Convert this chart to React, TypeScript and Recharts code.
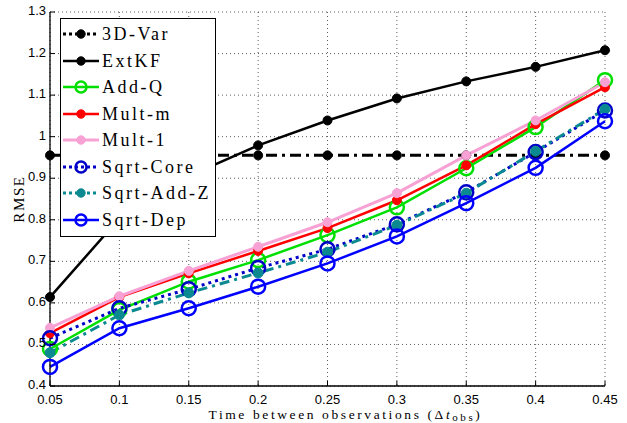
import { CartesianGrid, ComposedChart, Label, Legend, Line, XAxis, YAxis } from "recharts";

const dt = [0.05, 0.1, 0.15, 0.2, 0.25, 0.3, 0.35, 0.4, 0.45];
const xTicks = [0.05, 0.1, 0.15, 0.2, 0.25, 0.3, 0.35, 0.4, 0.45];
const yTicks = [0.4, 0.5, 0.6, 0.7, 0.8, 0.9, 1, 1.1, 1.2, 1.3];

const threeDVar = [0.955, 0.955, 0.955, 0.955, 0.955, 0.955, 0.955, 0.955, 0.955];
const extKF = [0.614, 0.803, 0.905, 0.979, 1.039, 1.092, 1.133, 1.168, 1.208];
const addQ = [0.489, 0.583, 0.651, 0.703, 0.763, 0.83, 0.924, 1.023, 1.136];
const multM = [0.527, 0.614, 0.671, 0.725, 0.78, 0.847, 0.931, 1.03, 1.119];
const mult1 = [0.54, 0.616, 0.677, 0.735, 0.794, 0.864, 0.955, 1.039, 1.131];
const sqrtCore = [0.515, 0.587, 0.633, 0.684, 0.729, 0.789, 0.866, 0.963, 1.063];
const sqrtAddZ = [0.48, 0.571, 0.624, 0.672, 0.722, 0.787, 0.864, 0.965, 1.066];
const sqrtDep = [0.446, 0.539, 0.587, 0.639, 0.695, 0.76, 0.84, 0.925, 1.037];

type Series = {
  key: string;
  name: string;
  values: number[];
  color: string;
  width: number;
  dash?: string;
  r: number;
  hollow?: boolean;
};

const series: Series[] = [
  { key: "v3d", name: "3D-Var", values: threeDVar, color: "#000000", width: 3, dash: "11 5 3 5", r: 4.5 },
  { key: "ekf", name: "ExtKF", values: extKF, color: "#000000", width: 2.5, r: 4.5 },
  { key: "addq", name: "Add-Q", values: addQ, color: "#00e000", width: 2.5, r: 7, hollow: true },
  { key: "multm", name: "Mult-m", values: multM, color: "#ff0000", width: 2.5, r: 4.5 },
  { key: "mult1", name: "Mult-1", values: mult1, color: "#f7a1d4", width: 3, r: 4.5 },
  { key: "core", name: "Sqrt-Core", values: sqrtCore, color: "#0000c8", width: 3, dash: "3 4", r: 7, hollow: true },
  { key: "addz", name: "Sqrt-Add-Z", values: sqrtAddZ, color: "#0a8a90", width: 3, dash: "10 5 3 5", r: 5 },
  { key: "dep", name: "Sqrt-Dep", values: sqrtDep, color: "#0000ff", width: 2.5, r: 7, hollow: true },
];

const data = dt.map((t, i) => {
  const row: Record<string, number> = { t };
  series.forEach((s) => (row[s.key] = s.values[i]));
  return row;
});

const fmt = (v: number) => String(Number(v.toFixed(2)));
const serif = "'Liberation Serif', 'DejaVu Serif', serif";
const sans = "'Liberation Sans', Arial, sans-serif";

function BottomTick(p: any) {
  return (
    <g>
      <line x1={p.x} x2={p.x} y1={p.y} y2={p.y - 5} stroke="#000" strokeWidth={1} />
      <text x={p.x} y={p.y + 18} textAnchor="middle" fontFamily={sans} fontSize={13} fill="#000">
        {fmt(p.payload.value)}
      </text>
    </g>
  );
}

function TopTick(p: any) {
  return <line x1={p.x} x2={p.x} y1={p.y} y2={p.y + 5} stroke="#000" strokeWidth={1} />;
}

function LeftTick(p: any) {
  return (
    <g>
      <line x1={p.x} x2={p.x + 5} y1={p.y} y2={p.y} stroke="#000" strokeWidth={1} />
      <text x={p.x - 4} y={p.y + 3} textAnchor="end" fontFamily={sans} fontSize={13} fill="#000">
        {fmt(p.payload.value)}
      </text>
    </g>
  );
}

function RightTick(p: any) {
  return <line x1={p.x} x2={p.x - 5} y1={p.y} y2={p.y} stroke="#000" strokeWidth={1} />;
}

function XTitle({ viewBox }: any) {
  const cx = viewBox.x + viewBox.width / 2 + 18;
  return (
    <text x={cx} y={viewBox.y + viewBox.height - 4} textAnchor="middle" fontFamily={serif} fontSize={13.5} letterSpacing={2.6} fill="#000">
      Time between observations (Δ<tspan fontStyle="italic">t</tspan>
      <tspan dy={1.5} fontSize={11}>obs</tspan>
      <tspan dy={-1.5}>)</tspan>
    </text>
  );
}

function YTitle({ viewBox }: any) {
  const cy = viewBox.y + viewBox.height / 2;
  const x = 19;
  return (
    <text x={x} y={cy} transform={`rotate(-90 ${x} ${cy})`} textAnchor="middle" dominantBaseline="central" fontFamily={serif} fontSize={15} letterSpacing={1.6} fill="#000">
      RMSE
    </text>
  );
}

function LegendBox() {
  return (
    <div style={{ background: "#fff", border: "1px solid #000", width: 156, padding: "2px 0 3px 2px", boxSizing: "border-box" }}>
      {series.map((s) => (
        <div key={s.key} style={{ display: "flex", alignItems: "center", height: 26.5 }}>
          <svg width={36} height={20} style={{ flex: "none" }}>
            <line x1={0} x2={36} y1={10} y2={10} stroke={s.color} strokeWidth={s.width} strokeDasharray={s.dash ? "3 3" : undefined} />
            <circle cx={18} cy={10} r={s.hollow ? 5.5 : 4.2} fill={s.hollow ? "none" : s.color} stroke={s.color} strokeWidth={s.hollow ? 2.5 : 1} />
          </svg>
          <span style={{ marginLeft: 3, fontFamily: serif, fontSize: 18, letterSpacing: 2.5, lineHeight: "20px", color: "#000" }}>{s.name}</span>
        </div>
      ))}
    </div>
  );
}

export default function App() {
  return (
    <div style={{ width: 627, height: 423, background: "#fff" }}>
      <style>{"body{margin:0}"}</style>
      <ComposedChart width={627} height={423} data={data} margin={{ top: 12, right: 22, left: 0, bottom: 0 }}>
        <CartesianGrid stroke="#333" strokeWidth={0.8} strokeDasharray="1 3" />
        <XAxis
          dataKey="t"
          type="number"
          domain={[0.05, 0.45]}
          ticks={xTicks}
          height={37}
          tickSize={0}
          tickMargin={0}
          tick={BottomTick}
          tickLine={false}
          axisLine={{ stroke: "#000", strokeWidth: 1.3 }}
          interval={0}
        >
          <Label content={XTitle} />
        </XAxis>
        <XAxis
          xAxisId="top"
          orientation="top"
          dataKey="t"
          type="number"
          domain={[0.05, 0.45]}
          ticks={xTicks}
          height={0}
          tickSize={0}
          tickMargin={0}
          tick={TopTick}
          tickLine={false}
          axisLine={{ stroke: "#000", strokeWidth: 1.3 }}
          interval={0}
        />
        <YAxis
          type="number"
          domain={[0.4, 1.3]}
          ticks={yTicks}
          width={50}
          tickSize={0}
          tickMargin={0}
          tick={LeftTick}
          tickLine={false}
          axisLine={{ stroke: "#000", strokeWidth: 1.3 }}
          interval={0}
        >
          <Label content={YTitle} />
        </YAxis>
        <YAxis
          yAxisId="right"
          orientation="right"
          type="number"
          domain={[0.4, 1.3]}
          ticks={yTicks}
          width={0}
          tickSize={0}
          tickMargin={0}
          tick={RightTick}
          tickLine={false}
          axisLine={{ stroke: "#000", strokeWidth: 1.3 }}
          interval={0}
        />
        {series.map((s) => (
          <Line
            key={s.key}
            dataKey={s.key}
            name={s.name}
            type="linear"
            stroke={s.color}
            strokeWidth={s.width}
            strokeDasharray={s.dash}
            dot={{ r: s.r, fill: s.hollow ? "none" : s.color, stroke: s.color, strokeWidth: s.hollow ? 2.5 : 1, strokeDasharray: "" }}
            activeDot={false}
            isAnimationActive={false}
          />
        ))}
        <Legend
          layout="vertical"
          align="center"
          verticalAlign="middle"
          content={LegendBox}
          wrapperStyle={{ left: 60, top: 18, width: 158, height: 219 }}
        />
      </ComposedChart>
    </div>
  );
}
